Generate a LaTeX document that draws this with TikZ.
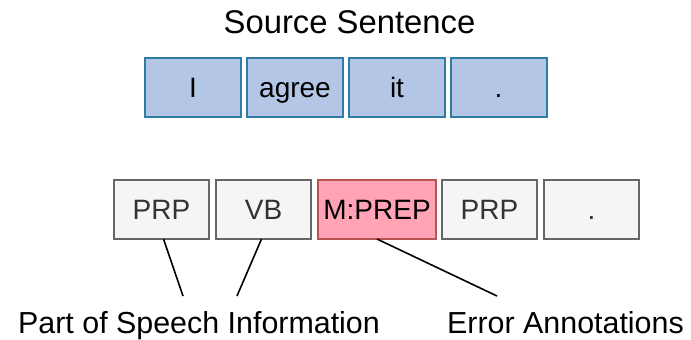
\documentclass[tikz,border=0pt]{standalone}
\usepackage{fontspec}
\setmainfont{Liberation Sans}

\definecolor{srcfill}{HTML}{B3C6E6}
\definecolor{srcline}{HTML}{2D7DA5}
\definecolor{tagfill}{HTML}{F5F5F5}
\definecolor{tagline}{HTML}{666666}
\definecolor{errfill}{HTML}{FFA3B5}
\definecolor{errline}{HTML}{B85450}

\begin{document}
\begin{tikzpicture}[x=0.5pt, y=-0.5pt,
    word/.style={draw=srcline, fill=srcfill, line width=1pt, inner sep=0pt, outer sep=0pt,
      text height=10pt, text depth=0pt,
      minimum width=48pt, minimum height=29.5pt, font=\fontsize{14}{16}\selectfont},
    tag/.style={draw=tagline, fill=tagfill, text=black!80, line width=1pt, inner sep=0pt, outer sep=0pt,
      text height=10pt, text depth=0pt,
      minimum width=47.5pt, minimum height=29.5pt, font=\fontsize{14}{16}\selectfont},
    errtag/.style={tag, draw=errline, fill=errfill, text=black, minimum width=59pt},
    caption/.style={anchor=base, inner sep=0pt, font=\fontsize{15.2}{18}\selectfont},
    link/.style={line width=0.8pt}]
  \useasboundingbox (0,0) rectangle (691,339);
  % source sentence
  \node[caption, font=\fontsize{16.4}{19}\selectfont] (srctitle) at (349.5,33) {Source Sentence};
  \node[word] (w1) at (193,87.5) {I};
  \node[word] (w2) at (295,87.5) {agree};
  \node[word] (w3) at (397,87.5) {it};
  \node[word] (w4) at (498.5,87.5) {.};
  % tags
  \node[tag] (t1) at (161.5,209.5) {PRP};
  \node[tag] (t2) at (263.5,209.5) {VB};
  \node[errtag] (t3) at (377,209.5) {M:PREP};
  \node[tag] (t4) at (489.5,209.5) {PRP};
  \node[tag] (t5) at (591.5,209.5) {.};
  % labels
  \node[caption] (poslabel) at (199,333) {Part of Speech Information};
  \node[caption] (errlabel) at (565.5,333) {Error Annotations};
  \coordinate (posA) at (183,296);
  \coordinate (posB) at (237,296);
  \coordinate (errA) at (497,296);
  \draw[link] ([xshift=1pt]t1.south) -- (posA);
  \draw[link] ([xshift=-1pt]t2.south) -- (posB);
  \draw[link] (t3.south) -- (errA);
\end{tikzpicture}
\end{document}
